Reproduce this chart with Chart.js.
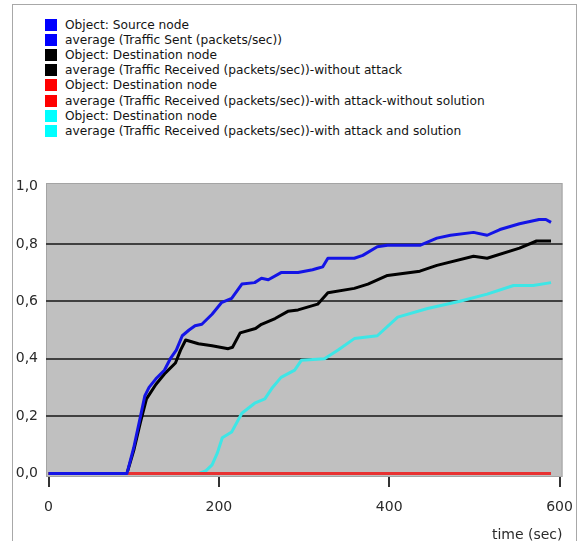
<!DOCTYPE html>
<html>
<head>
<meta charset="utf-8">
<script src="https://cdn.jsdelivr.net/npm/chart.js@4.4.1/dist/chart.umd.min.js"></script>
<style>
  html, body { margin: 0; padding: 0; background: #ffffff; }
  body { width: 585px; height: 541px; position: relative; overflow: hidden; font-family: "DejaVu Sans", sans-serif; }
  #frame { position: absolute; left: 12px; top: 4px; width: 565px; height: 560px; border: 1px solid #a8a8a8; box-sizing: border-box; }
  #legend { position: absolute; left: 45px; top: 18px; }
  .row { position: absolute; left: 0; height: 15px; white-space: nowrap; color: #141414; }
  .sw { position: absolute; left: 0; top: 1px; width: 12px; height: 12px; }
  .tx { position: absolute; left: 20px; top: -1px; line-height: 16px; }
  #wrap { position: absolute; left: 0; top: 0; width: 585px; height: 541px; }
</style>
</head>
<body>
<div id="frame"></div>
<div id="legend"></div>
<div id="wrap"><canvas id="c" width="585" height="541"></canvas></div>
<script>
// ---- data ----
const legendLabels = [
  "Object: Source node",
  "average (Traffic Sent (packets/sec))",
  "Object: Destination node",
  "average (Traffic Received (packets/sec))-without attack",
  "Object: Destination node",
  "average (Traffic Received (packets/sec))-with attack-without solution",
  "Object: Destination node",
  "average (Traffic Received (packets/sec))-with attack and solution"
];
const legendColors = ["#0000ff","#0000ff","#000000","#000000","#ff0000","#ff0000","#00ffff","#00ffff"];

const xTicks = [0, 200, 400, 600];
const yTicks = [0, 0.2, 0.4, 0.6, 0.8, 1.0];

const sentT = [0, 92, 100, 108, 113, 118, 126, 136, 143, 150, 157, 165, 172, 180, 192, 203, 215, 227, 242, 250, 258, 273, 293, 310, 316, 322, 328, 359, 369, 386, 398, 436, 456, 472, 499, 515, 530, 553, 576, 584, 590];
const sentV = [0, 0, 0.09, 0.2, 0.27, 0.30, 0.33, 0.36, 0.40, 0.43, 0.48, 0.50, 0.515, 0.52, 0.555, 0.595, 0.61, 0.66, 0.665, 0.68, 0.675, 0.70, 0.70, 0.71, 0.715, 0.72, 0.75, 0.75, 0.76, 0.79, 0.795, 0.795, 0.82, 0.83, 0.84, 0.83, 0.85, 0.87, 0.885, 0.885, 0.875];

const noAttackT = [0, 92, 100, 108, 115, 126, 137, 149, 155, 161, 176, 192, 211, 216, 225, 243, 250, 266, 281, 293, 316, 328, 359, 375, 398, 436, 456, 499, 515, 553, 573, 590];
const noAttackV = [0, 0, 0.08, 0.18, 0.26, 0.31, 0.35, 0.385, 0.43, 0.465, 0.452, 0.445, 0.435, 0.44, 0.49, 0.505, 0.52, 0.54, 0.565, 0.57, 0.59, 0.63, 0.645, 0.66, 0.69, 0.705, 0.725, 0.757, 0.75, 0.785, 0.81, 0.81];

const attackNoSolT = [0, 590];
const attackNoSolV = [0, 0];

const attackSolT = [0, 176, 185, 192, 198, 204, 215, 227, 242, 254, 263, 273, 289, 297, 324, 340, 359, 386, 410, 445, 483, 515, 546, 569, 590];
const attackSolV = [0, 0, 0.01, 0.03, 0.07, 0.125, 0.145, 0.21, 0.245, 0.26, 0.30, 0.335, 0.36, 0.395, 0.40, 0.43, 0.47, 0.48, 0.545, 0.575, 0.60, 0.625, 0.655, 0.655, 0.665];

function pts(t, v) { return t.map((x, i) => ({ x: x, y: v[i] })); }

// ---- legend ----
const legend = document.getElementById('legend');
const fontFam = '"DejaVu Sans", sans-serif';
const mctx = document.createElement('canvas').getContext('2d');
let fs = 13;
mctx.font = fs + 'px ' + fontFam;
const longest = Math.max(...legendLabels.map(s => mctx.measureText(s).width));
fs = Math.min(13, fs * 420 / longest);
legendLabels.forEach((lab, i) => {
  const r = document.createElement('div');
  r.className = 'row';
  r.style.top = (i * 15.1) + 'px';
  const sw = document.createElement('div');
  sw.className = 'sw';
  sw.style.background = legendColors[i];
  const tx = document.createElement('div');
  tx.className = 'tx';
  tx.style.fontSize = fs + 'px';
  tx.textContent = lab;
  r.appendChild(sw); r.appendChild(tx);
  legend.appendChild(r);
});

// ---- chart ----
const plotBg = {
  id: 'plotBg',
  beforeDraw(chart) {
    const a = chart.chartArea, ctx = chart.ctx;
    ctx.save();
    ctx.fillStyle = '#c0c0c0';
    ctx.fillRect(a.left, a.top, a.right - a.left, a.bottom - a.top);
    ctx.strokeStyle = '#a4a4a4';
    ctx.lineWidth = 1;
    ctx.strokeRect(a.left + 0.5, a.top + 0.5, a.right - a.left - 1, a.bottom - a.top - 1);
    ctx.restore();
  }
};

const tickFont = { family: fontFam, size: 14 };

new Chart(document.getElementById('c'), {
  type: 'line',
  data: {
    datasets: [
      { data: pts(sentT, sentV), borderColor: '#1414e6', borderWidth: 3 },
      { data: pts(attackNoSolT, attackNoSolV), borderColor: '#e83232', borderWidth: 3 },
      { data: pts(noAttackT, noAttackV), borderColor: '#000000', borderWidth: 3 },
      { data: pts(attackSolT, attackSolV), borderColor: '#3ee6e6', borderWidth: 3 }
    ]
  },
  options: {
    responsive: false,
    animation: false,
    events: [],
    elements: { point: { radius: 0 }, line: { tension: 0, borderJoinStyle: 'round', borderCapStyle: 'butt' } },
    layout: { padding: { left: 0, top: 183, right: 19, bottom: 0 } },
    plugins: { legend: { display: false }, tooltip: { enabled: false } },
    scales: {
      x: {
        type: 'linear',
        min: -3,
        max: 603.5,
        afterBuildTicks: (ax) => { ax.ticks = xTicks.map(v => ({ value: v })); },
        afterFit: (ax) => { ax.height = 64; },
        border: { display: false },
        grid: { drawOnChartArea: false, drawTicks: true, tickLength: 10, color: '#333333', lineWidth: 2 },
        ticks: { font: tickFont, color: '#2a2a2a', padding: 12, maxRotation: 0, autoSkip: false },
        title: { display: true, text: 'time (sec)', align: 'end', font: tickFont, color: '#2a2a2a', padding: { top: 0, bottom: -3 } }
      },
      y: {
        type: 'linear',
        min: -0.012,
        max: 1.012,
        afterBuildTicks: (ax) => { ax.ticks = yTicks.map(v => ({ value: v })); },
        afterFit: (ax) => { ax.width = 46; },
        border: { display: false },
        grid: {
          drawTicks: false,
          color: (c) => (c.tick && c.tick.value > 0.01 && c.tick.value < 0.99) ? '#404040' : 'rgba(0,0,0,0)',
          lineWidth: 2
        },
        ticks: {
          font: tickFont, color: '#2a2a2a', padding: 8,
          callback: (v) => v.toFixed(1).replace('.', ',')
        }
      }
    }
  },
  plugins: [plotBg]
});
</script>
</body>
</html>
